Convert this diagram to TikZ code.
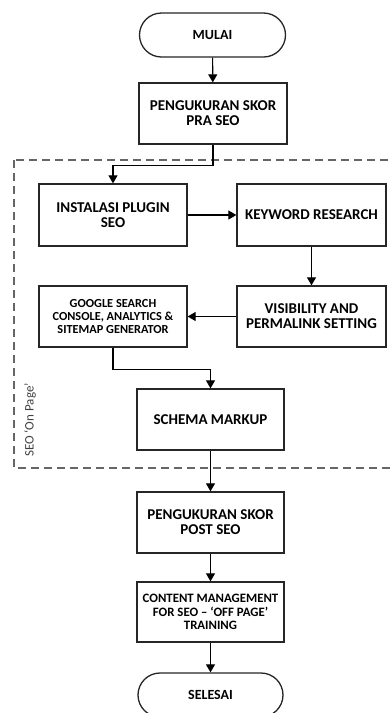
\documentclass[tikz,border=0pt]{standalone}
\usepackage{fontspec}
\setmainfont{Carlito}
\usetikzlibrary{arrows.meta,shapes.misc}
\begin{document}
\begin{tikzpicture}[x=1pt,y=-1pt,
  box/.style={draw=black!85,line width=1.3pt,fill=white,align=center,font=\bfseries\fontsize{15}{15}\selectfont,inner sep=1pt},
  small/.style={font=\bfseries\fontsize{12.3}{13.3}\selectfont},
  term/.style={box,rounded rectangle},
  arr/.style={draw=black,line width=1.1pt,-{Triangle[length=8pt,width=9pt]}},
  grp/.style={draw=black!60,line width=1.5pt,dash pattern=on 8pt off 5pt}]
\clip (0,0) rectangle (390,713);
\useasboundingbox (0,0) rectangle (390,713);
\draw[grp] (14,160) rectangle (400,468);
\node[term,minimum width=148pt,minimum height=44pt,font=\bfseries\fontsize{14}{15}\selectfont] (mulai) at (212.5,35) {MULAI};
\node[box,minimum width=148pt,minimum height=61pt] (pra) at (213,113.5) {PENGUKURAN SKOR\\PRA SEO};
\node[box,minimum width=148pt,minimum height=62pt] (inst) at (113,215) {INSTALASI PLUGIN\\SEO};
\node[box,minimum width=149pt,minimum height=62pt] (key) at (311.5,215) {KEYWORD RESEARCH};
\node[box,minimum width=149pt,minimum height=61pt] (vis) at (311.5,316.5) {VISIBILITY AND\\PERMALINK SETTING};
\node[box,small,minimum width=148pt,minimum height=61pt] (goog) at (113,316.5) {GOOGLE SEARCH\\CONSOLE, ANALYTICS \&\\SITEMAP GENERATOR};
\node[box,minimum width=147pt,minimum height=61pt] (schema) at (210.5,419.5) {SCHEMA MARKUP};
\node[box,minimum width=147pt,minimum height=61pt] (post) at (210.5,522.5) {PENGUKURAN SKOR\\POST SEO};
\node[box,small,minimum width=147pt,minimum height=60pt,font=\bfseries\fontsize{12.8}{13.3}\selectfont] (content) at (210.5,612) {CONTENT MANAGEMENT\\FOR SEO – ‘OFF PAGE’\\TRAINING};
\node[term,minimum width=147pt,minimum height=44pt,font=\bfseries\fontsize{14}{15}\selectfont] (selesai) at (210.5,695) {SELESAI};
\node[rotate=90,text=black!75,font=\fontsize{13}{14}\selectfont] (lbl) at (30,420) {SEO ‘On Page’};
\draw[arr] (mulai) -- (pra);
\draw[arr] (pra.south) -- ++(0,21) -| (inst.north);
\draw[arr] (inst) -- (key);
\draw[arr] (key) -- (vis);
\draw[arr] (vis) -- (goog);
\draw[arr] (goog.south) -- ++(0,22) -| (schema.north);
\draw[arr] (schema) -- (post);
\draw[arr] (post) -- (content);
\draw[arr] (content) -- (selesai);
\end{tikzpicture}
\end{document}
